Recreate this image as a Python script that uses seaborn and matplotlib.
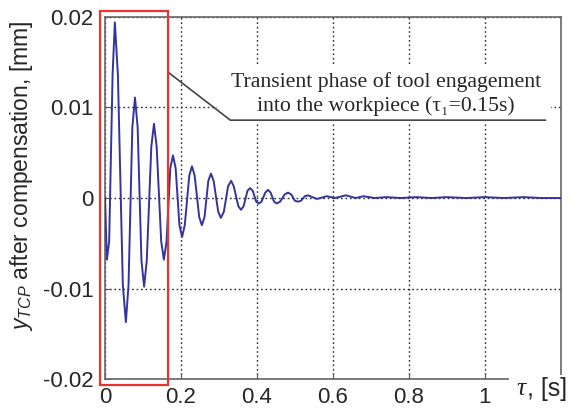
import matplotlib
matplotlib.use("Agg")
import matplotlib.pyplot as plt
import seaborn as sns
import pandas as pd
from matplotlib.patches import Rectangle

# Data (extrema and flank points of the response)
time_s = [0.000, 0.005, 0.011, 0.020, 0.026, 0.034, 0.047, 0.055, 0.062, 0.072,
          0.079, 0.086, 0.096, 0.103, 0.110, 0.122, 0.129, 0.136, 0.148, 0.155,
          0.162, 0.172, 0.179, 0.186, 0.196, 0.203, 0.210, 0.222, 0.229, 0.236,
          0.248, 0.255, 0.262, 0.272, 0.279, 0.286, 0.298, 0.305, 0.313, 0.324,
          0.332, 0.339, 0.351, 0.358, 0.365, 0.375, 0.382, 0.389, 0.398, 0.405,
          0.412, 0.422, 0.429, 0.436, 0.445, 0.452, 0.461, 0.473, 0.482, 0.490,
          0.500, 0.508, 0.516, 0.526, 0.534, 0.558, 0.584, 0.605, 0.634, 0.660,
          0.680, 0.710, 0.740, 0.780, 0.820, 0.860, 0.900, 0.950, 1.000, 1.050,
          1.100, 1.150, 1.200]
y_tcp_mm = [0.0000, -0.0068, -0.0048, 0.0136, 0.0194, 0.0136, -0.0096, -0.0137, -0.0096, 0.0078,
            0.0111, 0.0078, -0.0069, -0.0098, -0.0069, 0.0057, 0.0082, 0.0057, -0.0048, -0.0068,
            -0.0048, 0.0033, 0.0047, 0.0033, -0.0030, -0.0043, -0.0030, 0.0025, 0.0035, 0.0025,
            -0.0021, -0.0030, -0.0021, 0.0019, 0.0027, 0.0019, -0.0015, -0.0022, -0.0015, 0.0013,
            0.0019, 0.0013, -0.0009, -0.0013, -0.0009, 0.0008, 0.0011, 0.0008, -0.0004, -0.0006,
            -0.0004, 0.0006, 0.0009, 0.0006, -0.0004, -0.0006, -0.0004, 0.0004, 0.0006, 0.0004,
            -0.0003, -0.0004, -0.0003, 0.0002, 0.0003, -0.0001, 0.0002, 0.0000, 0.0003, 0.0000,
            0.0002, 0.0000, 0.0001, 0.0000, 0.0001, 0.0000, 0.0001, 0.0000, 0.0001, 0.0000,
            0.0001, 0.0000, 0.0000]

x_ticks = [0, 0.2, 0.4, 0.6, 0.8, 1.0]
x_tick_labels = ["0", "0.2", "0.4", "0.6", "0.8", "1"]
y_ticks = [-0.02, -0.01, 0, 0.01, 0.02]
y_tick_labels = ["-0.02", "-0.01", "0", "0.01", "0.02"]

sns.set_style("white")
plt.rcParams["font.family"] = ["Liberation Sans", "DejaVu Sans"]
plt.rcParams["mathtext.fontset"] = "custom"
plt.rcParams["mathtext.rm"] = "Liberation Sans"
plt.rcParams["mathtext.it"] = "Liberation Sans:italic"

fig = plt.figure(figsize=(5.8, 4.13), dpi=100)
ax = fig.add_axes([0.181, 0.082, 0.786, 0.877])

df = pd.DataFrame({"t": time_s, "y": y_tcp_mm})
sns.lineplot(data=df, x="t", y="y", ax=ax, sort=False, color="#34349c",
             linewidth=1.4, zorder=3)

ax.set_xlim(0, 1.2)
ax.set_ylim(-0.02, 0.02)
ax.set_xticks(x_ticks)
ax.set_xticklabels(x_tick_labels)
ax.set_yticks(y_ticks)
ax.set_yticklabels(y_tick_labels)
ax.tick_params(direction="in", length=4, color="#555555", labelsize=16,
               top=False, right=False, bottom=True, left=True)
ax.tick_params(axis="y", pad=8)
ax.tick_params(axis="x", pad=6)
ax.grid(True, color="#2a2a2a", linestyle=(0, (1.2, 2.0)), linewidth=1.0)
for s in ax.spines.values():
    s.set_color("#666666")
    s.set_linewidth(1.2)

ax.set_xlabel("")
ax.set_ylabel("")
fig.text(22 / 580, 1 - 176 / 413, r"$y_{TCP}$ after compensation, [mm]",
         fontsize=16.5, rotation=90, ha="center", va="center")

# x-axis label in the lower right corner (white patch hides axis ends)
fig.patches.append(Rectangle((509 / 580, 0), 71 / 580, 38 / 413,
                             transform=fig.transFigure, facecolor="white",
                             edgecolor="none", zorder=10))
fig.text(526 / 580, 1 - 389 / 413, "τ", family=["Liberation Serif", "DejaVu Serif"],
         style="italic", fontsize=18.5, ha="right", va="center", zorder=11)
fig.text(527 / 580, 1 - 389 / 413, ", [s]", fontsize=18, ha="left",
         va="center", zorder=11)

# red frame around the transient phase
rect = Rectangle((-0.013, -0.0206), 0.179, 0.0412, fill=False,
                 edgecolor="#e8342c", linewidth=1.6, clip_on=False, zorder=6)
ax.add_patch(rect)

# annotation
ax.add_patch(Rectangle((0.295, 0.0083), 0.88, 0.0063, facecolor="white",
                       edgecolor="none", zorder=2))
ax.plot([0.166, 0.33, 1.16], [0.0139, 0.0086, 0.0086], color="#444444",
        linewidth=1.2, zorder=4)
ax.text(0.74, 0.0128, "Transient phase of tool engagement",
        family=["Liberation Serif", "DejaVu Serif"], fontsize=15.7,
        ha="center", va="center", zorder=5)
ax.text(0.74, 0.0101, "into the workpiece (τ₁=0.15s)",
        family=["Liberation Serif", "DejaVu Serif"], fontsize=15.7,
        ha="center", va="center", zorder=5)

fig.savefig("out.png", dpi=100)
